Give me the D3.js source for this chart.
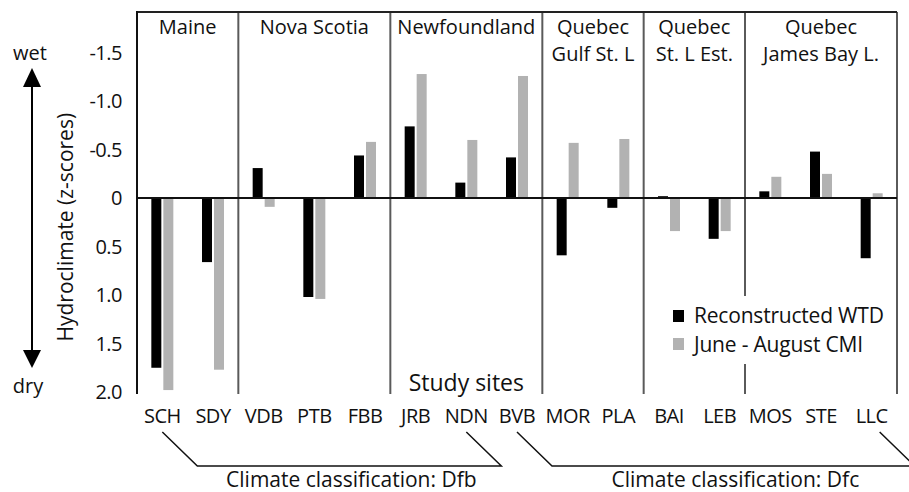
<!DOCTYPE html>
<html>
<head>
<meta charset="utf-8">
<script src="https://cdn.jsdelivr.net/npm/d3@7"></script>
<style>
  html, body { margin: 0; padding: 0; background: #fff; }
  svg { display: block; }
  text { font-family: "Open Sans", "Noto Sans", sans-serif; fill: #111; }
</style>
</head>
<body>
<svg id="chart" width="909" height="492"></svg>
<script>
// Study sites, in plotting order
const sites = ["SCH","SDY","VDB","PTB","FBB","JRB","NDN","BVB","MOR","PLA","BAI","LEB","MOS","STE","LLC"];
// Reconstructed water-table depth (z-scores; negative = wet)
const wtd = [1.75, 0.66, -0.31, 1.02, -0.44, -0.74, -0.16, -0.42, 0.59, 0.10, -0.02, 0.42, -0.07, -0.48, 0.62];
// June - August climate moisture index (z-scores)
const cmi = [1.98, 1.77, 0.09, 1.04, -0.58, -1.28, -0.60, -1.26, -0.57, -0.61, 0.34, 0.34, -0.22, -0.25, -0.05];
// Regions and the number of sites each holds
const regionNames = [["Maine"], ["Nova Scotia"], ["Newfoundland"], ["Quebec", "Gulf St. L"], ["Quebec", "St. L Est."], ["Quebec", "James Bay L."]];
const regionSizes = [2, 3, 3, 2, 2, 3];
// Climate classes with first and last site covered
const climateClasses = ["Dfb", "Dfc"];
const climateFirst = ["SCH", "BVB"];
const climateLast = ["NDN", "LLC"];
// Y tick values and labels
const yTicks = [-1.5, -1.0, -0.5, 0, 0.5, 1.0, 1.5, 2.0];
const yTickLabels = ["-1.5", "-1.0", "-0.5", "0", "0.5", "1.0", "1.5", "2.0"];
const seriesNames = ["Reconstructed WTD", "June - August CMI"];
const seriesColors = ["#000000", "#b2b2b2"];

const svg = d3.select("#chart");
const plotLeft = 137, plotRight = 897, plotTop = 12, plotBottom = 392;

const x = d3.scaleBand().domain(sites).range([plotLeft, plotRight]).padding(0);
const y = d3.scaleLinear().domain([-1.92, 2.0]).range([plotTop, plotBottom]);
const barW = 10, gap = 2;

// Horizontal extent of each region
let start = 0;
const regionEdges = [];
regionSizes.forEach((n) => {
  const x0 = x(sites[start]);
  const x1 = x(sites[start + n - 1]) + x.bandwidth();
  regionEdges.push([x0, x1]);
  start += n;
});

const g = svg.append("g");

// Separators (gray), drawn under everything else
regionEdges.slice(1).forEach(([x0]) => {
  g.append("line").attr("x1", x0).attr("x2", x0).attr("y1", plotTop).attr("y2", plotBottom + 2)
    .attr("stroke", "#5a5a5a").attr("stroke-width", 2);
});
g.append("line").attr("x1", plotRight).attr("x2", plotRight).attr("y1", plotTop).attr("y2", plotBottom + 2)
  .attr("stroke", "#5a5a5a").attr("stroke-width", 2);

// Region titles, one text per line
regionNames.forEach((lines, i) => {
  const cx = (regionEdges[i][0] + regionEdges[i][1]) / 2;
  lines.forEach((ln, k) => {
    g.append("text").attr("x", cx).attr("y", 34 + k * 27).attr("text-anchor", "middle")
      .style("font-size", "20px").text(ln);
  });
});

// Bars
const barX = [d => x(d) + x.bandwidth() / 2 - barW - gap / 2, d => x(d) + x.bandwidth() / 2 + gap / 2];
[wtd, cmi].forEach((vals, s) => {
  g.append("g").selectAll("rect").data(sites).join("rect")
    .attr("x", d => barX[s](d))
    .attr("width", barW)
    .attr("y", (d, i) => Math.min(y(0), y(vals[i])))
    .attr("height", (d, i) => Math.max(1, Math.abs(y(vals[i]) - y(0))))
    .attr("fill", seriesColors[s]);
});

// Zero line and frame
g.append("line").attr("x1", plotLeft).attr("x2", plotRight).attr("y1", y(0)).attr("y2", y(0))
  .attr("stroke", "#111").attr("stroke-width", 2);
g.append("line").attr("x1", plotLeft).attr("x2", plotRight).attr("y1", plotTop).attr("y2", plotTop)
  .attr("stroke", "#222").attr("stroke-width", 2);
g.append("line").attr("x1", plotLeft).attr("x2", plotLeft).attr("y1", plotTop - 1).attr("y2", plotBottom + 2)
  .attr("stroke", "#111").attr("stroke-width", 2);

// Y tick labels
g.selectAll(".ytick").data(yTicks).join("text").attr("class", "ytick")
  .attr("x", 122).attr("y", d => y(d)).attr("dy", "0.35em").attr("text-anchor", "end")
  .style("font-size", "20px").style("letter-spacing", "-0.5px").text((d, i) => yTickLabels[i]);

// Y axis title
g.append("text").attr("transform", `translate(73, ${y(0.3)}) rotate(-90)`)
  .attr("text-anchor", "middle").style("font-size", "21px").text("Hydroclimate (z-scores)");

// Wet/dry arrow
const ax = 32;
g.append("line").attr("x1", ax).attr("x2", ax).attr("y1", 80).attr("y2", 356)
  .attr("stroke", "#000").attr("stroke-width", 2);
g.append("path").attr("d", `M${ax},68 L${ax - 9},87 L${ax + 9},87 Z`).attr("fill", "#000");
g.append("path").attr("d", `M${ax},368 L${ax - 9},350 L${ax + 9},350 Z`).attr("fill", "#000");
g.append("text").attr("x", 30).attr("y", 60).attr("text-anchor", "middle").style("font-size", "20px").text("wet");
g.append("text").attr("x", 28).attr("y", 393).attr("text-anchor", "middle").style("font-size", "20px").text("dry");

// Site labels
g.selectAll(".site").data(sites).join("text").attr("class", "site")
  .attr("x", d => x(d) + x.bandwidth() / 2).attr("y", 423).attr("text-anchor", "middle")
  .style("font-size", "20px").style("letter-spacing", "-0.5px").text(d => d);

// Axis title
g.append("text").attr("x", (regionEdges[2][0] + regionEdges[2][1]) / 2).attr("y", 391)
  .attr("text-anchor", "middle").style("font-size", "23px").text("Study sites");

// Legend with white backing
const lg = g.append("g").attr("transform", "translate(660, 296)");
lg.append("rect").attr("width", 234).attr("height", 68).attr("fill", "#fff");
seriesNames.forEach((name, i) => {
  lg.append("rect").attr("x", 13).attr("y", 14 + i * 28).attr("width", 11).attr("height", 12)
    .attr("fill", seriesColors[i]);
  lg.append("text").attr("x", 34).attr("y", 27 + i * 29).style("font-size", "21px")
    .style("letter-spacing", "-0.2px").text(name);
});

// Climate classification brackets
climateClasses.forEach((cls, i) => {
  const xa = x(climateFirst[i]) + x.bandwidth() / 2;
  const xb = x(climateLast[i]) + x.bandwidth() / 2;
  const y0 = 432, y1 = 466, d = 35;
  const xEnd = i === climateClasses.length - 1 ? xb + 8 : xb;
  g.append("path")
    .attr("d", `M${xa},${y0} L${xa + d},${y1} L${xEnd + d},${y1} L${xEnd},${y0}`)
    .attr("fill", "none").attr("stroke", "#111").attr("stroke-width", 1.5);
  g.append("text").attr("x", (xa + xEnd) / 2 + d + 2).attr("y", 487).attr("text-anchor", "middle")
    .style("font-size", "21px").text("Climate classification: " + cls);
});
</script>
</body>
</html>
